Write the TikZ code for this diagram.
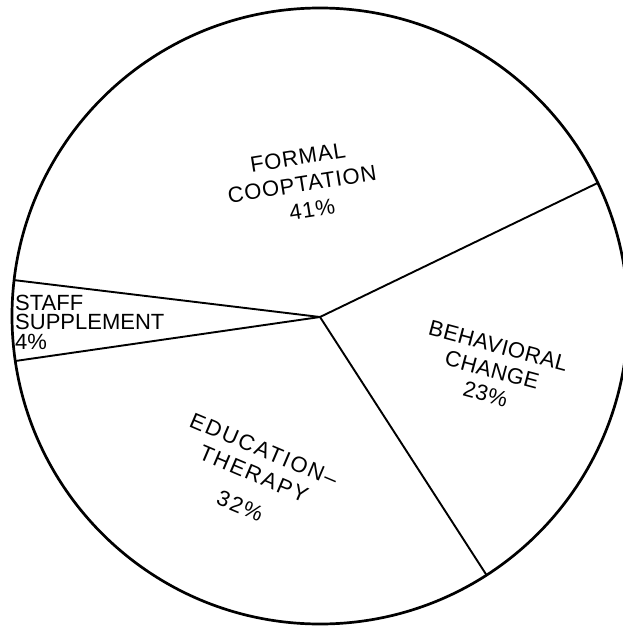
\documentclass[tikz,border=0pt]{standalone}
\usepackage{fontspec}
\setmainfont{Liberation Sans}
\begin{document}
\begin{tikzpicture}[x=1pt,y=-1pt,
  rim/.style={line width=2.7pt},
  spoke/.style={line width=1.9pt},
  lbl/.style={inner sep=0pt, align=center},
  ]
\useasboundingbox (0,0) rectangle (623,626);
\clip (0,0) rectangle (623,626);
\coordinate (c) at (320,316);
\coordinate (o) at (320,317);
\coordinate (p1) at (597.8,182.9);
\coordinate (p2) at (14.1,280.1);
\coordinate (p3) at (15.3,361.0);
\coordinate (p4) at (486.8,575.5);
\draw[rim] (c) circle (308pt);
\draw[spoke] (o) -- (p1);
\draw[spoke] (o) -- (p2);
\draw[spoke] (o) -- (p3);
\draw[spoke] (o) -- (p4);
\node[lbl, rotate=9, font=\fontsize{22}{27}\selectfont\addfontfeature{LetterSpace=4}] (formal) at (302,184) {FORMAL\\COOPTATION\\\hspace*{12pt}41\%};
\node[lbl, rotate=-15, font=\fontsize{22}{25}\selectfont\addfontfeature{LetterSpace=2}] (behav) at (492,370) {BEHAVIORAL\\CHANGE\\23\%};
\node[lbl, rotate=-23, font=\fontsize{22}{26}\selectfont\addfontfeature{LetterSpace=9}] (educ) at (252,478) {EDUCATION\textendash\\THERAPY\\[9pt]32\%};
\node[lbl, align=left, anchor=west, font=\fontsize{22}{19.5}\selectfont] (staff) at (15,322) {STAFF\\SUPPLEMENT\\4\%};
\end{tikzpicture}
\end{document}
